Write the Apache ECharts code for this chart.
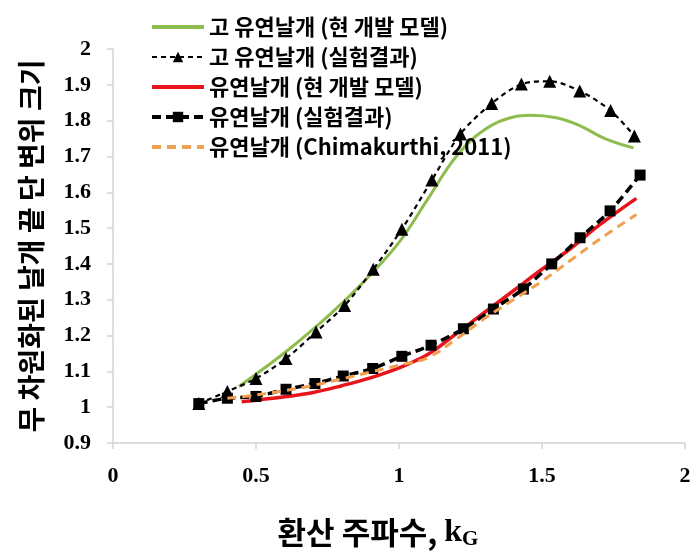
<!DOCTYPE html>
<html>
<head>
<meta charset="utf-8">
<script src="https://cdn.jsdelivr.net/npm/echarts@6/dist/echarts.min.js"></script>
<style>html,body{margin:0;padding:0;background:#fff}#c{width:696px;height:555px}</style>
</head>
<body>
<div id="c"></div>
<script>
// Legend / series names
const names = [
  '고 유연날개 (현 개발 모델)',
  '고 유연날개 (실험결과)',
  '유연날개 (현 개발 모델)',
  '유연날개 (실험결과)',
  '유연날개 (Chimakurthi, 2011)'
];
// 고 유연날개 (현 개발 모델)
const highModelX = [0.44,0.5,0.6,0.7,0.8,0.9,1.0,1.1,1.2,1.3,1.4,1.46,1.55,1.63,1.72,1.82];
const highModelY = [1.058,1.092,1.152,1.218,1.29,1.37,1.46,1.58,1.70,1.775,1.81,1.815,1.808,1.787,1.75,1.724];
// 고 유연날개 (실험결과)
const highExpX = [0.3,0.4,0.5,0.605,0.71,0.81,0.91,1.01,1.115,1.215,1.324,1.428,1.527,1.632,1.74,1.823];
const highExpY = [1.01,1.044,1.08,1.136,1.21,1.284,1.385,1.497,1.634,1.763,1.848,1.902,1.91,1.883,1.828,1.757];
// 유연날개 (현 개발 모델)
const flexModelX = [0.45,0.6,0.7,0.8,0.9,1.0,1.1,1.2,1.3,1.4,1.5,1.6,1.7,1.83];
const flexModelY = [1.015,1.029,1.041,1.06,1.082,1.11,1.147,1.205,1.265,1.325,1.385,1.443,1.508,1.583];
// 유연날개 (실험결과)
const flexExpX = [0.3,0.4,0.5,0.605,0.706,0.805,0.908,1.01,1.112,1.225,1.33,1.435,1.534,1.633,1.738,1.843];
const flexExpY = [1.01,1.025,1.03,1.05,1.066,1.087,1.108,1.142,1.173,1.219,1.274,1.33,1.40,1.473,1.548,1.648];
// 유연날개 (Chimakurthi, 2011)
const chimaX = [0.4,0.5,0.6,0.7,0.8,0.9,1.0,1.1,1.2,1.3,1.4,1.5,1.6,1.7,1.83];
const chimaY = [1.025,1.034,1.046,1.061,1.079,1.098,1.117,1.138,1.19,1.248,1.30,1.352,1.41,1.468,1.538];
// axis ticks
const xTicks = {min:0, max:2, interval:0.5};
const yTicks = {min:0.9, max:2, interval:0.1};

const zip = (xs, ys) => xs.map((x,i)=>[x, ys[i]]);
const fmt = v => String(+(+v).toFixed(1));

const chart = echarts.init(document.getElementById('c'));
const tickFont = {fontFamily:'Liberation Serif', fontWeight:'bold', fontSize:22, color:'#000'};
const legendWidths = [4, 2.2, 4, 4, 4];
chart.setOption({
  animation:false,
  backgroundColor:'#fff',
  grid:{left:113, right:11, top:49, bottom:108},
  legend:{
    orient:'vertical', left:145, top:11,
    itemWidth:52, itemHeight:13, itemGap:8,
    textStyle:{fontFamily:'Noto Sans CJK KR', fontWeight:'bold', fontSize:22, color:'#000'},
    data:names.map((n,i)=>({name:n, lineStyle:{width:legendWidths[i]}}))
  },
  xAxis:{
    type:'value', min:xTicks.min, max:xTicks.max, interval:xTicks.interval,
    axisLine:{show:true, lineStyle:{color:'#d4d4d4', width:1.5}},
    axisTick:{show:true, length:6, lineStyle:{color:'#d4d4d4', width:1.5}},
    splitLine:{show:false},
    axisLabel:Object.assign({margin:22, formatter:fmt}, tickFont),
    name:'환산 주파수, {k|k}{g|G}',
    nameLocation:'middle', nameGap:72,
    nameTextStyle:{
      fontFamily:'Noto Sans CJK KR', fontWeight:'bold', fontSize:31, color:'#000',
      padding:[0,42,0,0],
      rich:{
        k:{fontFamily:'Liberation Serif', fontWeight:'bold', fontSize:32, color:'#000'},
        g:{fontFamily:'Liberation Serif', fontSize:21, color:'#000', padding:[14,0,0,0]}
      }
    }
  },
  yAxis:{
    type:'value', min:yTicks.min, max:yTicks.max, interval:yTicks.interval,
    axisLine:{show:true, lineStyle:{color:'#d4d4d4', width:1.5}},
    axisTick:{show:true, length:6, lineStyle:{color:'#d4d4d4', width:1.5}},
    splitLine:{show:false},
    axisLabel:Object.assign({margin:22, formatter:fmt}, tickFont),
    name:'무 차원화된 날개 끝 단 변위 크기',
    nameLocation:'middle', nameGap:68, nameRotate:90,
    nameTextStyle:{fontFamily:'Noto Sans CJK KR', fontWeight:'bold', fontSize:28, color:'#000'}
  },
  series:[
    {name:names[0], type:'line', smooth:0.4, showSymbol:false,
     data:zip(highModelX, highModelY), lineStyle:{color:'#8fbc4f', width:3}, itemStyle:{color:'#8fbc4f', opacity:0}, z:2},
    {name:names[1], type:'line', smooth:0.3, symbol:'triangle', symbolSize:13,
     data:zip(highExpX, highExpY), lineStyle:{color:'#000', width:2.2, type:[5,4]}, itemStyle:{color:'#000'}, z:3},
    {name:names[2], type:'line', smooth:0.4, showSymbol:false,
     data:zip(flexModelX, flexModelY), lineStyle:{color:'#e8141c', width:3.5}, itemStyle:{color:'#e8141c', opacity:0}, z:2},
    {name:names[3], type:'line', smooth:0.3, symbol:'rect', symbolSize:11,
     data:zip(flexExpX, flexExpY), lineStyle:{color:'#000', width:3.5, type:[9,5]}, itemStyle:{color:'#000'}, z:3},
    {name:names[4], type:'line', smooth:0.4, showSymbol:false,
     data:zip(chimaX, chimaY), lineStyle:{color:'#f0a050', width:3, type:[9,6]}, itemStyle:{color:'#f0a050', opacity:0}, z:4}
  ]
});
</script>
</body>
</html>
